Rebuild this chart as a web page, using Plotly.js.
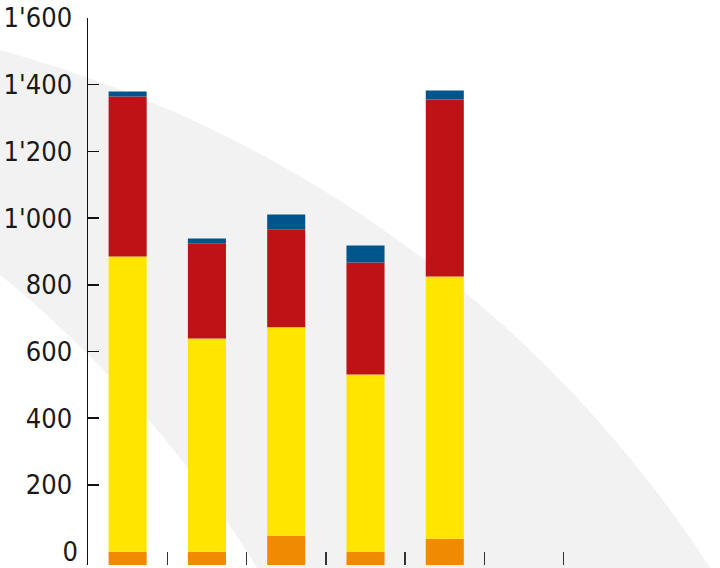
<!DOCTYPE html>
<html>
<head>
<meta charset="utf-8">
<script src="https://cdn.plot.ly/plotly-3.0.1.min.js"></script>
<style>
  html, body { margin: 0; padding: 0; background: #ffffff; }
  #chart { width: 720px; height: 568px; }
</style>
</head>
<body>
<div id="chart"></div>
<script>
// ---- data (segment heights, stacked from the axis floor) ----
const categories = [0, 1, 2, 3, 4];
const floorValue = -40;
const orangeValues = [40, 40, 88, 40, 79];
const yellowValues = [885, 639, 625, 531, 786];
const redValues    = [480, 286, 294, 336, 531];
const blueValues   = [15, 14, 44, 51, 27];
const yTickVals    = [200, 400, 600, 800, 1000, 1200, 1400, 1600];
const yZeroTick    = [0];
const xTickVals    = [0.5, 1.5, 2.5, 3.5, 4.5, 5.5];

const seriesList = [
  { name: 'orange', values: orangeValues, color: '#f08a00' },
  { name: 'yellow', values: yellowValues, color: '#ffe500' },
  { name: 'red',    values: redValues,    color: '#bd1316' },
  { name: 'blue',   values: blueValues,   color: '#00558c' }
];

// cumulative bases
let running = categories.map(() => floorValue);
const traces = seriesList.map(s => {
  const base = running.slice();
  running = running.map((r, i) => r + s.values[i]);
  return {
    type: 'bar',
    x: categories,
    y: s.values,
    base: base,
    name: s.name,
    marker: { color: s.color, line: { width: 0 } },
    width: 0.48,
    hoverinfo: 'skip'
  };
});

// ---- decorative background band (pixel geometry -> paper coords) ----
const L = 88, R = 643, T = 18, B = 565;
function px2paper(px, py) {
  return [((px - L) / (R - L)).toFixed(5), ((B - py) / (B - T)).toFixed(5)];
}
function circleY(cx, cy, r, px) {
  return cy - Math.sqrt(r * r - (px - cx) * (px - cx));
}
const outer = { cx: -324, cy: 1241, r: 1234 };
const inner = { cx: -757, cy: 1198.5, r: 1194.3 };
let pts = [];
for (let px = -5; px <= 716; px += 7) pts.push(px2paper(px, circleY(outer.cx, outer.cy, outer.r, px)));
for (let px = 264; px >= -5; px -= 7) pts.push(px2paper(px, circleY(inner.cx, inner.cy, inner.r, px)));
const bandPath = 'M' + pts.map(p => p[0] + ',' + p[1]).join(' L') + ' Z';

const FONT = 'DejaVu Sans Condensed, Liberation Sans Narrow, sans-serif';
const tickFont = { size: 27, color: '#1a1a1a', family: FONT };

const layout = {
  width: 720,
  height: 568,
  margin: { l: L, r: 720 - R, t: T, b: 568 - B, pad: 0 },
  paper_bgcolor: '#ffffff',
  plot_bgcolor: 'rgba(0,0,0,0)',
  showlegend: false,
  barmode: 'overlay',
  separators: ".'",
  font: { family: FONT, color: '#1a1a1a' },
  xaxis: {
    type: 'linear',
    range: [-0.5, 6.5],
    showgrid: false,
    zeroline: false,
    showline: false,
    tickmode: 'array',
    tickvals: xTickVals,
    ticks: 'inside',
    ticklen: 13,
    tickwidth: 1.5,
    tickcolor: '#333333',
    showticklabels: false,
    fixedrange: true
  },
  yaxis: {
    range: [floorValue, 1600],
    showgrid: false,
    zeroline: false,
    showline: true,
    linecolor: '#111111',
    linewidth: 1.5,
    tickmode: 'array',
    tickvals: yTickVals,
    ticks: 'inside',
    ticklen: 11,
    tickwidth: 1.5,
    tickcolor: '#111111',
    separatethousands: true,
    tickformat: ',d',
    ticklabelstandoff: 9,
    ticklabeloverflow: 'allow',
    tickfont: tickFont,
    fixedrange: true
  },
  yaxis2: {
    overlaying: 'y',
    side: 'left',
    anchor: 'x',
    range: [floorValue, 1600],
    showgrid: false,
    zeroline: false,
    showline: false,
    tickmode: 'array',
    tickvals: yZeroTick,
    ticks: '',
    tickformat: ',d',
    ticklabelstandoff: 9,
    ticklabeloverflow: 'allow',
    tickfont: tickFont,
    fixedrange: true
  },
  shapes: [{
    type: 'path',
    xref: 'paper',
    yref: 'paper',
    path: bandPath,
    fillcolor: '#f2f2f2',
    line: { width: 0 },
    layer: 'below'
  }]
};

// invisible carrier trace so yaxis2 is drawn
traces.push({ type: 'scatter', x: [], y: [], yaxis: 'y2', hoverinfo: 'skip', showlegend: false });

Plotly.newPlot('chart', traces, layout, { displayModeBar: false, staticPlot: true });
</script>
</body>
</html>
